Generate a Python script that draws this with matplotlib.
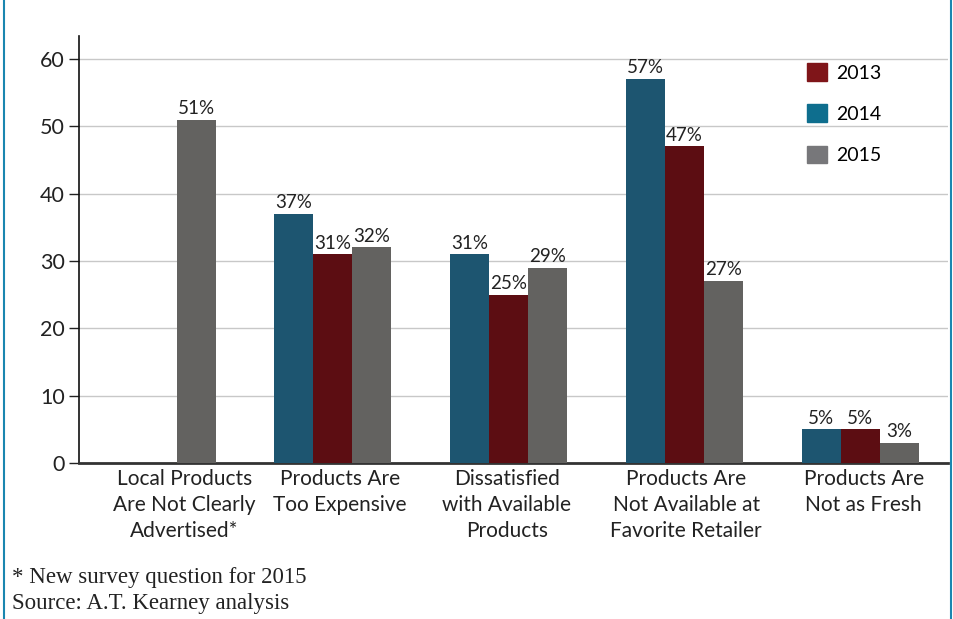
import numpy as np
from matplotlib import pyplot as plt
from matplotlib.patches import Patch
from matplotlib.lines import Line2D

categories = ["Local Products\nAre Not Clearly\nAdvertised*",
              "Products Are\nToo Expensive",
              "Dissatisfied\nwith Available\nProducts",
              "Products Are\nNot Available at\nFavorite Retailer",
              "Products Are\nNot as Fresh"]
vals_2014 = [None, 37, 31, 57, 5]
vals_2013 = [None, 31, 25, 47, 5]
vals_2015 = [51, 32, 29, 27, 3]

c2014 = "#1d5570"
c2013 = "#5c0d12"
c2015 = "#636260"

plt.rcParams['font.family'] = ['Lato', 'DejaVu Sans']

fig = plt.figure(figsize=(9.54, 6.19), dpi=100)
ax = fig.add_axes([79/954, 1 - 463/619, (948 - 79)/954, (463 - 36)/619])

x = np.arange(len(categories))
w = 0.222
series = [(vals_2014, c2014, -w), (vals_2013, c2013, 0), (vals_2015, c2015, w)]
for vals, col, off in series:
    for i, v in enumerate(vals):
        if v is None:
            continue
        ax.bar(x[i] + off, v, width=w, color=col, zorder=3)
        ax.text(x[i] + off, v + 0.4, f"{v}%", ha='center', va='bottom',
                fontsize=13.5, color='#222222', zorder=4)

ax.set_xlim(-0.445, 4.5)
ax.set_ylim(0, 63.4)
ax.set_yticks([0, 10, 20, 30, 40, 50, 60])
ax.tick_params(axis='y', labelsize=15.5, length=7, width=1, colors='#222222', pad=3)
ax.yaxis.grid(True, color='#c8c8c8', lw=1, zorder=0)

label_pos = [0.155, 1.04, 1.99, 3.01, 4.02]
ax.set_xticks(label_pos)
ax.set_xticklabels(categories, fontsize=15, color='#222222', linespacing=1.4)
ax.tick_params(axis='x', length=0, pad=4)

for s in ['top', 'right']:
    ax.spines[s].set_visible(False)
ax.spines['left'].set_color('#111111')
ax.spines['left'].set_linewidth(1.2)
ax.spines['bottom'].set_color('#333333')
ax.spines['bottom'].set_linewidth(2)

handles = [Patch(color="#7f1519", label="2013"),
           Patch(color="#0e6e8e", label="2014"),
           Patch(color="#77777a", label="2015")]
ax.legend(handles=handles, loc='upper left', bbox_to_anchor=(0.818, 0.977),
          frameon=False, fontsize=14, handlelength=1.0, handleheight=1.0,
          labelspacing=1.17, handletextpad=0.5)

fig.text(12/954, 1 - 578/619, "* New survey question for 2015", family='Liberation Serif',
         fontsize=16.5, va='center', color='#222222')
fig.text(12/954, 1 - 603/619, "Source: A.T. Kearney analysis", family='Liberation Serif',
         fontsize=16.5, va='center', color='#222222')

fig.add_artist(Line2D([4/954, 4/954], [0, 1], color='#1a86b0', lw=1.5, transform=fig.transFigure))
fig.add_artist(Line2D([951/954, 951/954], [0, 1], color='#1a86b0', lw=1.5, transform=fig.transFigure))

plt.savefig('out.png', dpi=100)
